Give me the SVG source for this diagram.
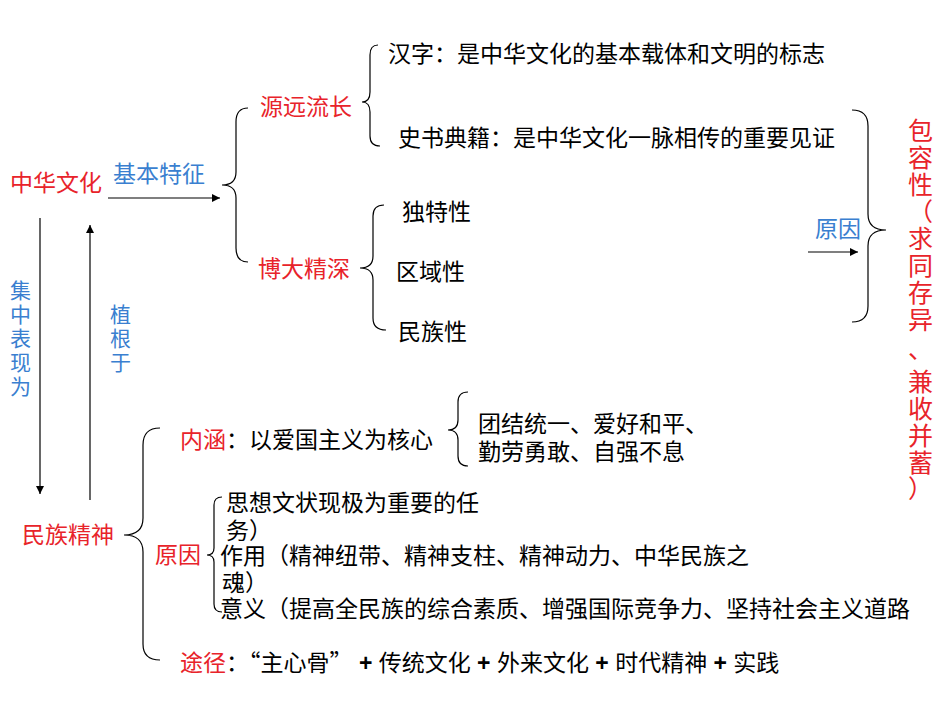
<svg xmlns="http://www.w3.org/2000/svg" width="950" height="713" viewBox="0 0 950 713">
<defs>
<marker id="ah" viewBox="0 0 10 10" refX="10" refY="5" markerWidth="7" markerHeight="7" orient="auto"><path d="M0,0L10,5L0,10z" fill="#000"/></marker>
<style>
text{font-family:"Liberation Sans","Noto Sans CJK SC",sans-serif;font-size:23px;fill:#000}
.r{fill:#e8232a}.b{fill:#3a7fd0}
.vl{font-size:21px}
.v{font-size:25px}
.q{font-family:"Noto Sans CJK SC",sans-serif}
.br{fill:none;stroke:#000;stroke-width:1.2}
.ln{stroke:#000;stroke-width:1.2;fill:none}
</style>
</defs>
<rect width="950" height="713" fill="#fff"/>
<g id="connectors">
<line class="ln" x1="108" y1="198" x2="220" y2="198" marker-end="url(#ah)"/>
<line class="ln" x1="808" y1="252" x2="858" y2="252" marker-end="url(#ah)"/>
<line class="ln" x1="40" y1="218" x2="40" y2="494" marker-end="url(#ah)"/>
<line class="ln" x1="90" y1="500" x2="90" y2="225" marker-end="url(#ah)"/>
<path class="br" d="M248,108 Q236,108 236,122 L236,172 Q236,185 222,185 Q236,185 236,198 L236,248 Q236,262 248,262"/>
<path class="br" d="M378,45 Q370,45 370,55 L370,92 Q370,102 362,102 Q370,102 370,112 L370,136 Q370,146 380,146"/>
<path class="br" d="M384,205 Q373,205 373,216 L373,256 Q373,268 360,268 Q373,268 373,280 L373,318 Q373,330 386,330"/>
<path class="br" d="M852,110 Q868,110 868,126 L868,214 Q868,230 886,230 Q868,230 868,246 L868,306 Q868,322 852,322"/>
<path class="br" d="M160,428 Q143,428 143,445 L143,518 Q143,535 124,535 Q143,535 143,552 L143,644 Q143,660 160,660"/>
<path class="br" d="M468,392 Q458,392 458,402 L458,420 Q458,430 448,430 Q458,430 458,440 L458,456 Q458,466 468,466"/>
<path class="br" d="M222,497 Q214,497 214,505 L214,548 Q214,555 207,555 Q214,555 214,562 L214,604 Q214,612 222,612"/>
</g>
<g id="n-zhonghua"><text class="r" x="10" y="191">中华文化</text></g>
<g id="l-jiben"><text class="b" x="113" y="182">基本特征</text></g>
<g id="n-yuanyuan"><text class="r" x="260" y="115">源远流长</text></g>
<g id="n-boda"><text class="r" x="258" y="277">博大精深</text></g>
<g id="n-hanzi"><text x="388" y="62">汉字：是中华文化的基本载体和文明的标志</text></g>
<g id="n-shishu"><text x="398" y="146">史书典籍：是中华文化一脉相传的重要见证</text></g>
<g id="n-dute"><text x="402" y="220">独特性</text></g>
<g id="n-quyu"><text x="396" y="280">区域性</text></g>
<g id="n-minzu"><text x="398" y="340">民族性</text></g>
<g id="l-yuanyin1"><text class="b" x="815" y="237">原因</text></g>
<g id="n-baorong">
<text class="r v" x="908" y="140">包</text><text class="r v" x="908" y="167">容</text><text class="r v" x="908" y="194">性</text>
<text class="r v" x="908" y="221">（</text><text class="r v" x="908" y="248">求</text><text class="r v" x="908" y="275">同</text>
<text class="r v" x="908" y="302">存</text><text class="r v" x="908" y="329">异</text><text class="r v" x="908" y="358">、</text>
<text class="r v" x="908" y="391">兼</text><text class="r v" x="908" y="418">收</text><text class="r v" x="908" y="445">并</text>
<text class="r v" x="908" y="472">蓄</text><text class="r v" x="908" y="498">）</text>
</g>
<g id="l-jizhong">
<text class="b vl" x="10" y="298">集</text><text class="b vl" x="10" y="322">中</text><text class="b vl" x="10" y="346">表</text><text class="b vl" x="10" y="370">现</text><text class="b vl" x="10" y="394">为</text>
</g>
<g id="l-zhigen">
<text class="b vl" x="110" y="322">植</text><text class="b vl" x="110" y="346">根</text><text class="b vl" x="110" y="370">于</text>
</g>
<g id="n-minzujingshen"><text class="r" x="22" y="543">民族精神</text></g>
<g id="n-neihan"><text x="180" y="448"><tspan class="r">内涵</tspan>：以爱国主义为核心</text></g>
<g id="n-tuanjie"><text x="478" y="432">团结统一、爱好和平、</text><text x="478" y="460">勤劳勇敢、自强不息</text></g>
<g id="n-yuanyin2"><text class="r" x="155" y="563">原因</text></g>
<g id="n-sixiang"><text x="226" y="511">思想文状现极为重要的任</text><text x="226" y="539">务）</text></g>
<g id="n-zuoyong"><text x="220" y="564">作用（精神纽带、精神支柱、精神动力、中华民族之</text><text x="222" y="591">魂）</text></g>
<g id="n-yiyi"><text x="220" y="617">意义（提高全民族的综合素质、增强国际竞争力、坚持社会主义道路</text></g>
<g id="n-tujing"><text x="180" y="671"><tspan class="r">途径</tspan>：<tspan class="q">“</tspan>主心骨<tspan class="q">”</tspan> <tspan font-weight="bold">+</tspan> 传统文化 <tspan font-weight="bold">+</tspan> 外来文化 <tspan font-weight="bold">+</tspan> 时代精神 <tspan font-weight="bold">+</tspan> 实践</text></g>
</svg>
